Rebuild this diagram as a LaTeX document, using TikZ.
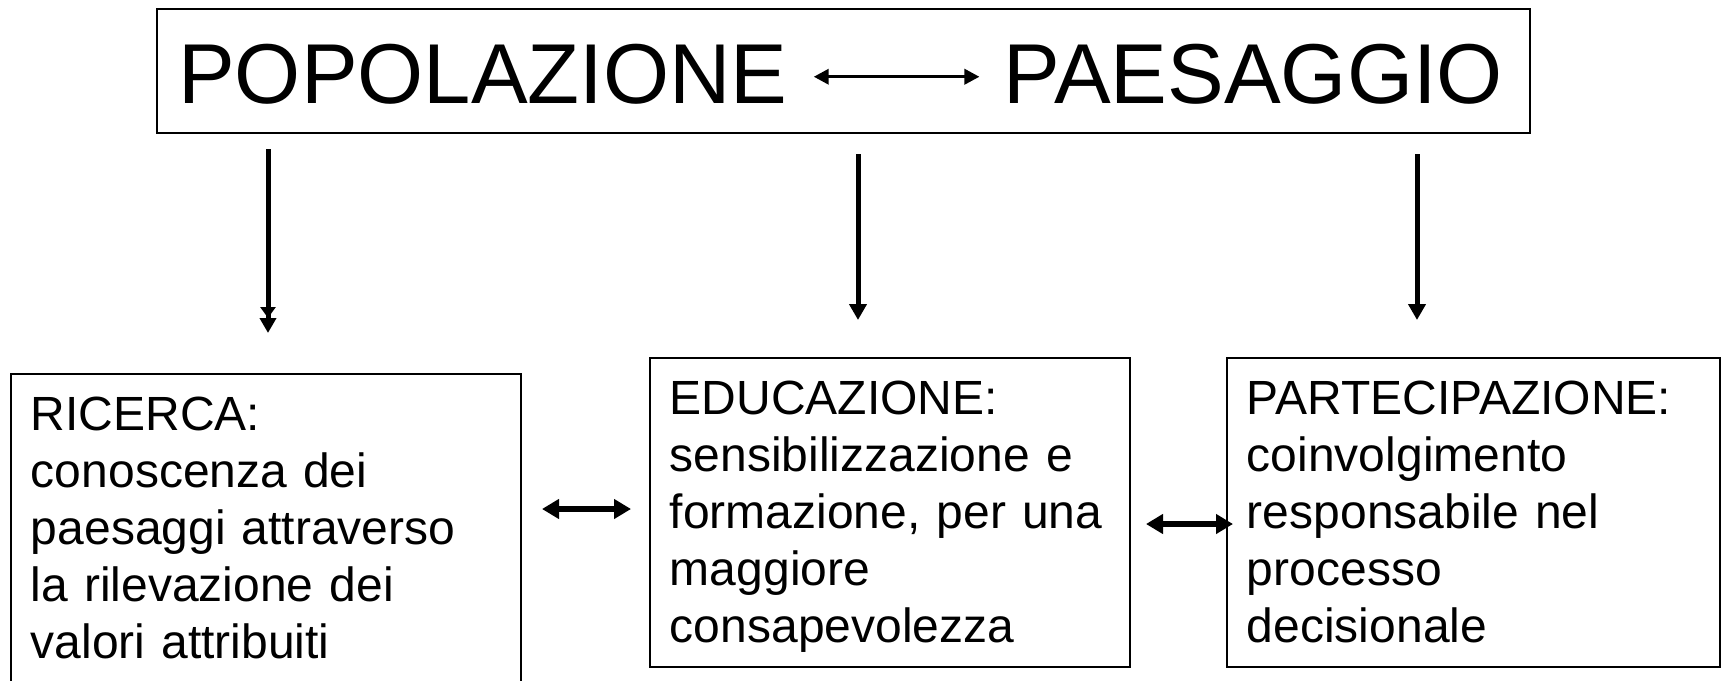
\documentclass[tikz,border=0pt]{standalone}
\usepackage{fontspec}
\setmainfont{Liberation Sans}
\usetikzlibrary{arrows.meta}

\begin{document}
\begin{tikzpicture}[x=1pt,y=-1pt,
			box/.style={draw,line width=1.5pt,inner sep=0pt},
			big/.style={inner sep=0pt,font=\fontsize{85}{100}\selectfont},
			txt/.style={inner sep=0pt,anchor=base west,align=left,text width=470pt,font=\fontsize{48}{57}\selectfont},
			twoway/.style={line width=3.5pt,{Triangle[length=15pt,width=15pt]}-{Triangle[length=15pt,width=15pt]}},
			twowaybig/.style={line width=5.5pt,{Triangle[length=17pt,width=19pt]}-{Triangle[length=17pt,width=19pt]}},
			downarr/.style={line width=5pt,-{Triangle[length=16pt,width=17pt]}},
			downarrtwo/.style={line width=5pt,-{Triangle[length=11pt,width=15pt]Triangle[length=15pt,width=16pt,sep=-4pt]}}]
			\useasboundingbox[clip] (0,0) rectangle (1721,680);

			\node[box,minimum width=1373pt,minimum height=124pt] (top) at (843.5,71) {};
			\node[big,anchor=base west] (pop) at (178,103) {POPOLAZIONE};
			\node[big,anchor=base east] (pae) at (1503,103) {PAESAGGIO};
			\draw[twoway] ([xshift=26pt,yshift=-3pt]pop.east) -- ([xshift=-24pt,yshift=-3pt]pae.west);

			\node[box,overlay,minimum width=510pt,minimum height=346pt] (ric) at (266,547) {};
			\node[box,minimum width=480pt,minimum height=309pt] (edu) at (890,512.5) {};
			\node[box,minimum width=493pt,minimum height=309pt] (par) at (1473.5,512.5) {};

			\node[txt] (rictxt) at ([shift={(20.5,57)}]ric.north west) {RICERCA:\\conoscenza dei\\paesaggi attraverso\\la rilevazione dei\\valori attribuiti};
			\node[txt] (edutxt) at ([shift={(20.5,57)}]edu.north west) {EDUCAZIONE:\\sensibilizzazione e\\formazione, per una\\maggiore\\consapevolezza};
			\node[txt] (partxt) at ([shift={(20.5,57)}]par.north west) {PARTECIPAZIONE:\\coinvolgimento\\responsabile nel\\processo\\decisionale};

			\coordinate (s1) at (268,149);
			\coordinate (e1) at (268,329);
			\coordinate (s2) at (858,154);
			\coordinate (e2) at (858,320);
			\coordinate (s3) at (1417,154);
			\coordinate (e3) at (1417,320);
			\draw[downarrtwo] (s1) -- (e1);
			\draw[downarr] (s2) -- (e2);
			\draw[downarr] (s3) -- (e3);

			\coordinate (l1) at (542,509);
			\coordinate (r1) at (631,509);
			\coordinate (l2) at (1146,524);
			\coordinate (r2) at (1233,524);
			\draw[twowaybig] (l1) -- (r1);
			\draw[twowaybig] (l2) -- (r2);
		\end{tikzpicture}
\end{document}
